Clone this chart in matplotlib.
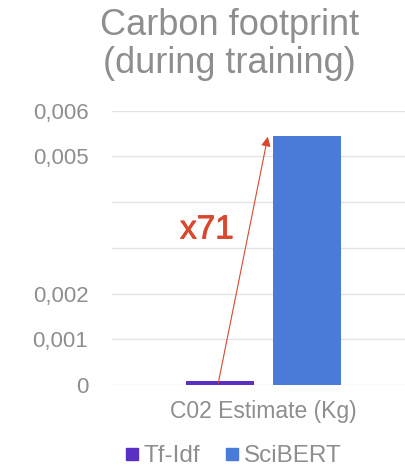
import matplotlib.pyplot as plt
import matplotlib.patheffects as pe
from matplotlib.lines import Line2D

plt.rcParams["font.family"] = ["Liberation Sans", "DejaVu Sans"]

CATEGORY = "C02 Estimate (Kg)"
MODELS = ["Tf-Idf", "SciBERT"]
VALUES = [0.0000768, 0.00545]
COLORS = ["#5a2fc4", "#4a7bd8"]
TICKS = [0, 0.001, 0.002, 0.003, 0.004, 0.005, 0.006]
TICK_LABELS = ["0", "0,001", "0,002", "", "", "0,005", "0,006"]
RATIO_LABEL = "x71"

GRAY = "#8e8e8e"
RED = "#d9482e"


def main():
    fig = plt.figure(figsize=(4.05, 4.67), dpi=100)
    ax = fig.add_axes([0.2765, 0.1756, 0.75, 0.5874])

    xs = [-0.29, 0.286]
    for x, v, c in zip(xs, VALUES, COLORS):
        ax.bar(x, v, width=0.45, color=c, zorder=3)

    ax.set_xlim(-1, 1)
    ax.set_ylim(0, 0.006)
    ax.set_yticks(TICKS)
    ax.set_yticklabels(TICK_LABELS)
    ax.set_xticks([])
    ax.grid(axis="y", color="#e3e3e3", linewidth=1.0, zorder=0)
    for s in ax.spines.values():
        s.set_visible(False)
    ax.tick_params(axis="y", length=0, pad=17, labelsize=16, labelcolor=GRAY)

    # ratio arrow from small bar up to the big one
    ax.annotate("", xy=(0.026, VALUES[1] - 0.00002), xytext=(-0.30, VALUES[0] * 0.6),
                arrowprops=dict(arrowstyle="-|>", color=RED, lw=0.8,
                                mutation_scale=14, shrinkA=0, shrinkB=0),
                zorder=4)
    ax.text(-0.375, 0.00339, RATIO_LABEL, color=RED, fontsize=24,
            ha="center", va="center", zorder=5,
            path_effects=[pe.withStroke(linewidth=0.6, foreground=RED)])

    fig.text(0.566, 0.905, "Carbon footprint\n(during training)", color=GRAY,
             fontsize=26, ha="center", va="center", linespacing=1.12)
    fig.text(0.65, 0.118, CATEGORY, color=GRAY, fontsize=16.5,
             ha="center", va="center")

    handles = [Line2D([], [], marker="s", linestyle="", color=c, markersize=8.5)
               for c in COLORS]
    fig.legend(handles, MODELS, loc="center", bbox_to_anchor=(0.57, 0.023),
               ncol=2, frameon=False, fontsize=17.5, labelcolor=GRAY,
               handletextpad=0.0, columnspacing=0.8, handlelength=1.0)

    fig.savefig("out.png", dpi=100)


if __name__ == "__main__":
    main()
